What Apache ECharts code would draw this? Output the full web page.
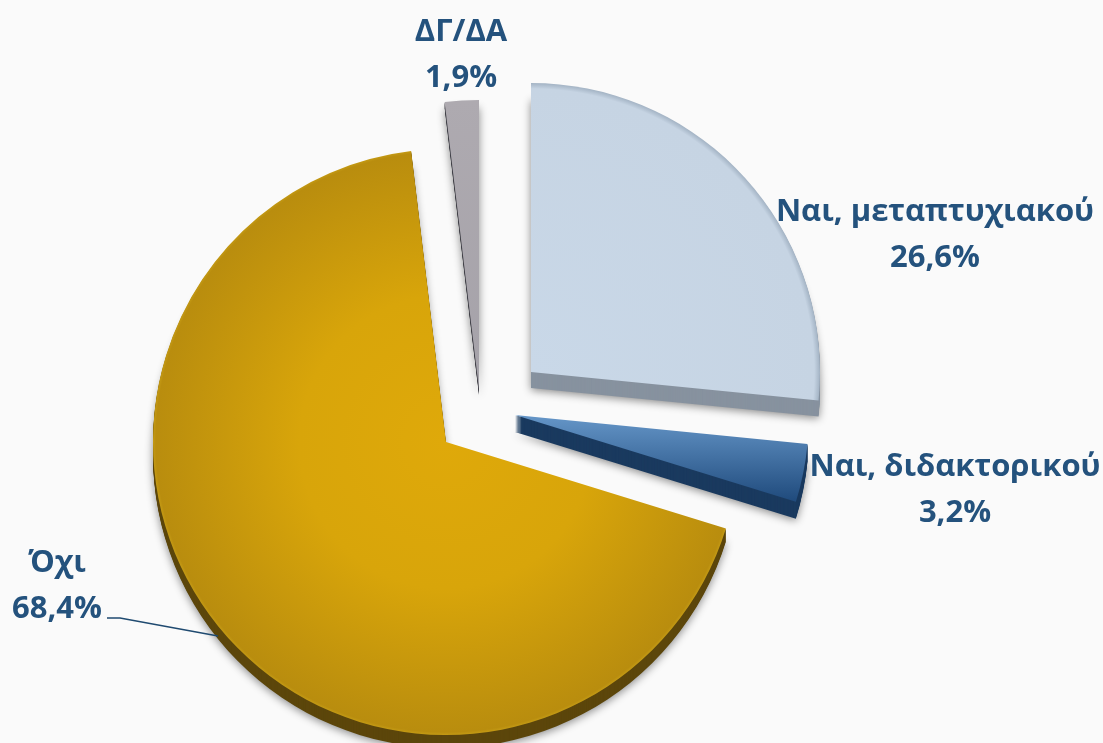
<!DOCTYPE html>
<html><head><meta charset="utf-8">
<style>html,body{margin:0;padding:0;background:#fafafa}#c{width:1103px;height:743px}</style>
<script src="https://cdn.jsdelivr.net/npm/echarts@6/dist/echarts.min.js"></script>
</head><body><div id="c"></div>
<script>
const categories = ['Ναι, μεταπτυχιακού', 'Ναι, διδακτορικού', 'Όχι', 'ΔΓ/ΔΑ'];
const values = [26.6, 3.2, 68.4, 1.9];
const centers = [[531, 372], [515, 415], [446, 442], [479, 389]];
const radii = [289, 294, 293, 289];
const depths = [16, 17, 13, 6];
const depthColors = ['#87929f', '#1a3a5f', '#5c460b', '#3d3d44'];
const topColors = [
  {type:'radial',x:531,y:372,r:289,global:true,colorStops:[{offset:0,color:'#c9d8e8'},{offset:.98,color:'#c6d4e3'},{offset:1,color:'#a3b3c4'}]},
  {type:'linear',x:0,y:0,x2:0,y2:1,colorStops:[{offset:0,color:'#6596c8'},{offset:1,color:'#1f4a7c'}]},
  {type:'radial',x:446,y:442,r:293,global:true,colorStops:[{offset:0,color:'#dfa90a'},{offset:.5,color:'#d8a50a'},{offset:.99,color:'#b98d0e'},{offset:1,color:'#c49a14'}]},
  {type:'linear',x:0,y:0,x2:0,y2:1,colorStops:[{offset:0,color:'#aeaab0'},{offset:1,color:'#a5a2a9'}]}
];
const labelPos = [[935, 235], [955, 490], [57, 586], [461, 55]];
const leaderPoints = [[218, 636], [120, 618], [107, 618]];

const fmt = p => p.name + '\n' + String(p.value).replace('.', ',') + '%';
const series = [];
const hidden = {color:'rgba(0,0,0,0)', borderWidth:0, shadowBlur:0};
function slice(i, dy, color, withLabel, shadow) {
  series.push({
    type:'pie', silent:true, animation:false, startAngle:90, clockwise:true,
    center:[centers[i][0], centers[i][1] + dy], radius:[0, radii[i]],
    z: withLabel ? 5 : 3,
    data: categories.map((name, k) => ({
      name, value: values[k],
      itemStyle: k === i ? (shadow ? {color, shadowBlur:8, shadowColor:'rgba(0,0,0,.45)', shadowOffsetY:2} : {color}) : hidden,
      label: {show: withLabel && k === i},
      labelLine: {show: withLabel && k === i && name === 'Όχι'}
    })),
    label:{
      position:'outside', formatter:fmt, color:'#24527d', overflow:'none', width:400,
      fontFamily:'"Open Sans"', fontWeight:'bold', fontSize:31, lineHeight:46, align:'center'
    },
    labelLine:{length:0, length2:0, lineStyle:{color:'#1f4a70', width:1.5}},
    labelLayout: () => ({x: labelPos[i][0], y: labelPos[i][1], align:'center', verticalAlign:'middle', hideOverlap:false,
      labelLinePoints: leaderPoints})
  });
}
categories.forEach((_, i) => {
  for (let d = depths[i]; d > 0; d -= 1) slice(i, d, depthColors[i], false, d === depths[i]);
  slice(i, 0, topColors[i], true, false);
});
const chart = echarts.init(document.getElementById('c'), null, {renderer:'canvas'});
chart.setOption({backgroundColor:'#fafafa', animation:false, series});
</script></body></html>
